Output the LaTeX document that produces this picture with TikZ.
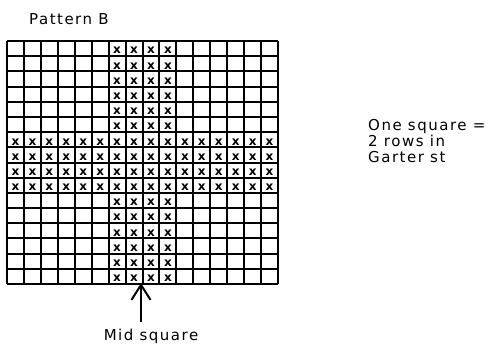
\documentclass[tikz,border=0pt]{standalone}
\usepackage{fontspec}
\setmainfont{DejaVu Sans}[LetterSpace=10]
\usetikzlibrary{arrows.meta}
\begin{document}
\begin{tikzpicture}[
    x=1pt, y=-1pt,
    label/.style={font=\fontsize{15}{16}\selectfont, inner sep=0pt},
    cross/.style={font=\fontsize{12}{12}\selectfont\bfseries, inner sep=0pt},
    gridline/.style={line width=2pt},
    arrow/.style={-{Straight Barb[length=15pt, width=19pt]}, line width=2pt}
]
    \useasboundingbox (0,0) rectangle (491,345);

    % Grid, 16 x 16 squares
    \def\cw{16.94}
    \def\ch{15.19}
    \foreach \i in {0,...,16} {
        \draw[gridline] (7+\i*\cw,41) -- (7+\i*\cw,284);
        \draw[gridline] (7,41+\i*\ch) -- (278,41+\i*\ch);
    }

    % Vertical band of crosses
    \foreach \r in {1,...,6,11,12,...,16} {
        \foreach \c in {7,...,10} {
            \node[cross] (x\r-\c) at (7+\c*\cw-0.5*\cw,41+\r*\ch-0.5*\ch+2) {x};
        }
    }
    % Horizontal band of crosses
    \foreach \r in {7,...,10} {
        \foreach \c in {1,...,16} {
            \node[cross] (x\r-\c) at (7+\c*\cw-0.5*\cw,41+\r*\ch-0.5*\ch+2) {x};
        }
    }

    % Labels
    \node[label, anchor=base west] (title) at (29,25) {Pattern B};
    \node[label, anchor=north west, align=left] (key) at (368,119) {One square =\\2 rows in\\Garter st};
    \node[label, anchor=base] (midlabel) at (151,340) {Mid square};

    % Arrow to the middle
    \coordinate (tail) at (141,322);
    \coordinate (mid) at (141,283);
    \draw[arrow] (tail) -- (mid);
\end{tikzpicture}
\end{document}
